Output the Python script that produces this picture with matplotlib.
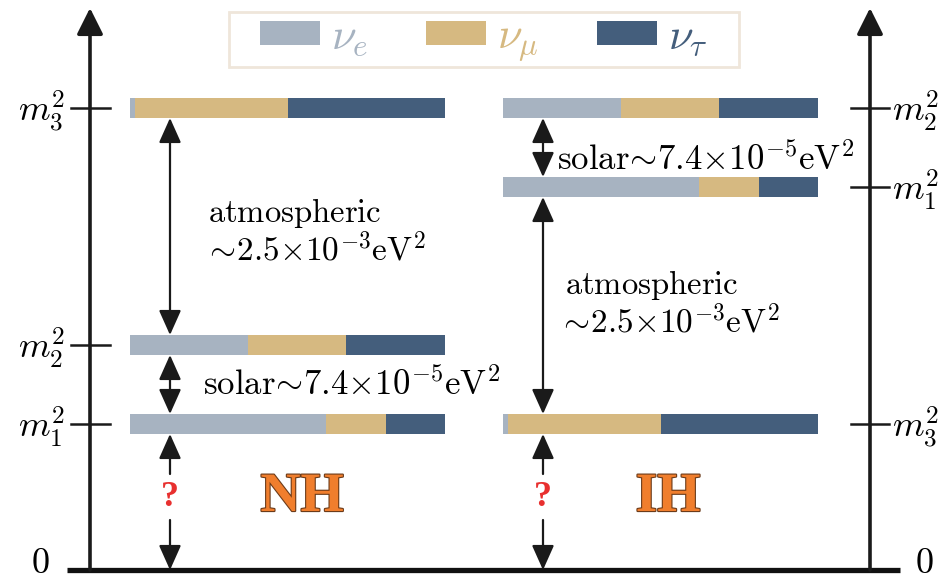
import matplotlib.pyplot as plt
import matplotlib.patheffects as pe
from matplotlib.patches import Patch, Rectangle

# flavour content of each mass eigenstate (m1, m2, m3)
flavours = [r'$\nu_e$', r'$\nu_\mu$', r'$\nu_\tau$']
ve_frac = [0.623, 0.375, 0.016]
mu_frac = [0.190, 0.311, 0.486]
tau_frac = [0.187, 0.314, 0.498]

# level heights (arbitrary units, 0 = massless)
nh_levels = [146, 225, 462]
ih_levels = [383, 462, 146]
nh_labels = [r'$m_1^2$', r'$m_2^2$', r'$m_3^2$']
ih_labels = [r'$m_1^2$', r'$m_2^2$', r'$m_3^2$']

solar_txt = r'$\mathrm{solar}\!\sim\!7.4{\times}10^{-5}\mathrm{eV}^2$'
atm_txt = r'$\sim\!2.5{\times}10^{-3}\mathrm{eV}^2$'

colors = ['#a7b3c1', '#d6b981', '#445e7c']

plt.rcParams['mathtext.fontset'] = 'cm'
plt.rcParams['font.family'] = 'DejaVu Serif'

fig = plt.figure(figsize=(9.5, 5.8), dpi=100)
ax = fig.add_axes([0, 0, 1, 1])
ax.set_xlim(0, 950)
ax.set_ylim(-10, 570)
ax.axis('off')

bar_len = 315
bar_h = 20


def draw_levels(x0, levels):
    for i, y in enumerate(levels):
        left = x0
        for fr, c in zip((ve_frac[i], mu_frac[i], tau_frac[i]), colors):
            ax.barh(y, fr * bar_len, left=left, height=bar_h, color=c, lw=0)
            left += fr * bar_len


draw_levels(130, nh_levels)
draw_levels(503, ih_levels)

# vertical axes with arrows and the baseline
axis_arrow = dict(arrowstyle='-|>,head_length=1.0,head_width=0.5', lw=2.6,
                  color='#1a1a1a', mutation_scale=16, shrinkA=0, shrinkB=0)
for xa in (90, 870):
    ax.annotate('', xy=(xa, 562), xytext=(xa, 0), arrowprops=axis_arrow)
ax.plot([67, 900], [0, 0], lw=3.8, color='#111111', solid_capstyle='butt')

tick_font = 26
for y, lab in zip(nh_levels, nh_labels):
    ax.plot([71, 110], [y, y], lw=1.8, color='#1a1a1a')
    ax.text(65, y - 3, lab, ha='right', va='center', fontsize=tick_font)
for y, lab in zip(ih_levels, ih_labels):
    ax.plot([851, 889], [y, y], lw=1.8, color='#1a1a1a')
    ax.text(892, y - 3, lab, ha='left', va='center', fontsize=tick_font)
ax.text(40, -3, '$0$', ha='center', va='baseline', fontsize=tick_font)
ax.text(924, -3, '$0$', ha='center', va='baseline', fontsize=tick_font)

# splittings between the levels
dbl = dict(arrowstyle='<|-|>,head_length=0.85,head_width=0.38', lw=1.6,
           color='#1a1a1a', mutation_scale=18, shrinkA=0, shrinkB=0)
one = dict(arrowstyle='-|>,head_length=0.85,head_width=0.38', lw=1.6,
           color='#1a1a1a', mutation_scale=18, shrinkA=0, shrinkB=0)


def splitting(x, lo, hi):
    ax.annotate('', xy=(x, hi - bar_h / 2), xytext=(x, lo + bar_h / 2), arrowprops=dbl)


def unknown(x, lowest):
    top = lowest - bar_h / 2
    ax.annotate('', xy=(x, top), xytext=(x, 96), arrowprops=one)
    ax.annotate('', xy=(x, 0), xytext=(x, 50), arrowprops=one)
    ax.text(x, 73, '?', ha='center', va='center', fontsize=26,
            fontweight='bold', color='#e8302f', family='Liberation Serif')


splitting(170, nh_levels[1], nh_levels[2])
splitting(170, nh_levels[0], nh_levels[1])
unknown(170, nh_levels[0])
splitting(543, ih_levels[0], ih_levels[1])
splitting(543, ih_levels[2], ih_levels[0])
unknown(543, ih_levels[2])

fs = 23.5
fs_atm = 24
fs_sol = 25
ax.text(208, 357, r'$\mathrm{atmospheric}$', ha='left', va='center', fontsize=fs)
ax.text(204, 320, atm_txt, ha='left', va='center', fontsize=fs_atm)
ax.text(203, 185, solar_txt, ha='left', va='center', fontsize=fs_sol)

ax.text(565, 285, r'$\mathrm{atmospheric}$', ha='left', va='center', fontsize=fs)
ax.text(558, 248, atm_txt, ha='left', va='center', fontsize=fs_atm)
ax.text(557, 410, solar_txt, ha='left', va='center', fontsize=fs_sol)

# hierarchy names
outline = [pe.withStroke(linewidth=1.6, foreground='#6b3b1a')]
ax.text(302, 73, 'NH', ha='center', va='center', fontsize=40, fontweight='bold',
        color='#f07e2d', family='Liberation Serif', path_effects=outline)
ax.text(668, 73, 'IH', ha='center', va='center', fontsize=40, fontweight='bold',
        color='#f07e2d', family='Liberation Serif', path_effects=outline)

# flavour legend with a thin beige box around it
ax.add_patch(Rectangle((229, 503), 510, 55, facecolor='white',
                       edgecolor='#efe6da', lw=2, zorder=4))
handles = [Patch(facecolor=c, edgecolor='none') for c in colors]
leg = ax.legend(handles, flavours, ncol=3, loc='center',
                bbox_to_anchor=(0.509, 0.932), fontsize=32,
                labelcolor=colors, handlelength=1.35, handleheight=0.43,
                handletextpad=0.25, columnspacing=1.3,
                frameon=False, borderpad=0.15)
leg.set_zorder(5)

fig.savefig('out.png', dpi=100)
